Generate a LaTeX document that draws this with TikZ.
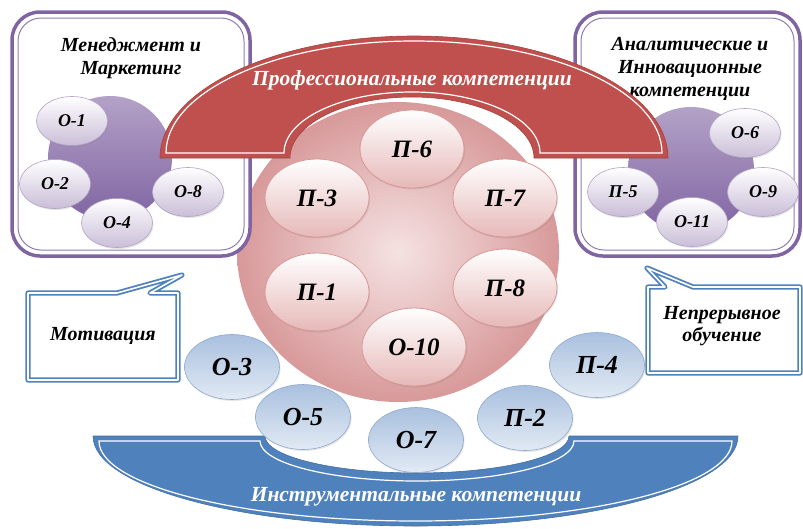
\documentclass[tikz,border=0pt]{standalone}
\usepackage{fontspec}
\setmainfont{Liberation Serif}
\usetikzlibrary{shapes.geometric,shadows}

\definecolor{zred}{HTML}{C0504D}
\definecolor{zblue}{HTML}{4F81BD}
\definecolor{zpurple}{HTML}{8064A2}
\definecolor{zlav}{HTML}{B3A2C7}
\definecolor{zpinkel}{HTML}{E6B9B8}
\definecolor{zpinkb}{HTML}{D99694}
\definecolor{zpinkin}{HTML}{F5E2E2}
\definecolor{zpinkout}{HTML}{D8999A}
\definecolor{zbluetop}{HTML}{A9C0DE}
\definecolor{zbluebot}{HTML}{E2EAF4}
\definecolor{zblueb}{HTML}{8EA9CF}

\begin{document}
\begin{tikzpicture}[x=1pt, y=-1pt, % 1单位 = 1像素, y轴向下
    every node/.style={font=\bfseries\itshape, inner sep=0pt}, % 统一字体
    purplebox/.style={draw=zpurple, line width=3.5pt, rounded corners=28pt, fill=white},
    purpleinner/.style={draw=zpurple!85, line width=1pt, rounded corners=23pt},
    boxtitle/.style={font=\fontsize{20}{23}\selectfont\bfseries\itshape, align=center},
    ovalshadow/.style={drop shadow={opacity=0.2, shadow xshift=1pt, shadow yshift=-1.5pt}},
    smalloval/.style={ellipse, minimum width=71pt, minimum height=49pt, draw=zlav, line width=0.6pt,
        top color=white, bottom color=zlav!70, ovalshadow, font=\fontsize{18}{18}\selectfont\bfseries\itshape},
    pinkoval/.style={ellipse, minimum width=104pt, minimum height=78pt, draw=zpinkb, line width=0.8pt,
        top color=white, bottom color=zpinkel, ovalshadow, font=\fontsize{25}{25}\selectfont\bfseries\itshape},
    blueoval/.style={ellipse, minimum width=95pt, minimum height=65pt, draw=zblueb, line width=0.6pt,
        top color=zbluetop, bottom color=zbluebot, ovalshadow, font=\fontsize{26}{26}\selectfont\bfseries\itshape},
    calloutbox/.style={draw=zblue, line width=1.8pt, double=white, double distance=1.6pt, fill=white, line join=round},
    calltext/.style={font=\fontsize{20}{22}\selectfont\bfseries\itshape, align=center},
    redarch/.style={fill=zred, draw=zred!85!black, line width=0.6pt},
    bluearch/.style={fill=zblue, draw=zblue!85!black, line width=0.6pt},
    whiteline/.style={draw=white, line width=1.2pt},
    archtext/.style={text=white, font=\fontsize{21.5}{21.5}\selectfont\bfseries\itshape}
  ]
  \useasboundingbox (0,0) rectangle (803,528);

  % 中间的粉色大圆
  \path[inner color=zpinkin, outer color=zpinkout] (398,252) ellipse[x radius=161, y radius=150];

  % 左框: 管理与营销
  \draw[purplebox] (12,12) rectangle (250,256);
  \draw[purpleinner] (18,18) rectangle (244,250);
  \node[boxtitle] (titleL) at (131,58) {Менеджмент и\\Маркетинг};
  \path[top color=zlav, bottom color=zpurple] (110,158) circle[radius=62];
  \node[smalloval] (o1) at (72,121) {О-1};
  \node[smalloval] (o2) at (55,184) {О-2};
  \node[smalloval] (o4) at (117,223) {О-4};
  \node[smalloval] (o8) at (188,192) {О-8};

  % 右框: 分析与创新
  \draw[purplebox] (575,12) rectangle (800,256);
  \draw[purpleinner] (581,18) rectangle (794,250);
  \node[boxtitle] (titleR) at (690,69) {Аналитические и\\Инновационные\\компетенции};
  \path[top color=zlav, bottom color=zpurple] (691,170) circle[radius=63];
  \node[smalloval] (o6) at (745,133) {О-6};
  \node[smalloval] (p5) at (623,192) {П-5};
  \node[smalloval] (o9) at (763,192) {О-9};
  \node[smalloval] (o11) at (692,222) {О-11};

  % 粉色圆内的六个椭圆
  \node[pinkoval] (p6) at (412,149) {П-6};
  \node[pinkoval] (p3) at (317,198) {П-3};
  \node[pinkoval] (p7) at (505,198) {П-7};
  \node[pinkoval] (p1) at (317,292) {П-1};
  \node[pinkoval] (p8) at (505,288) {П-8};
  \node[pinkoval] (o10) at (414,347) {О-10};

  % 上方红色拱形
  \path[redarch] (160,158) arc[start angle=180, end angle=360, x radius=254, y radius=122]
    -- (534,158) arc[start angle=360, end angle=180, x radius=122, y radius=61] -- cycle;
  \path[whiteline] (166,153) arc[start angle=180, end angle=360, x radius=248, y radius=112]
    -- (540,153) arc[start angle=360, end angle=180, x radius=128, y radius=61] -- cycle;
  \node[archtext] (prof) at (412,80) {Профессиональные компетенции};

  % 下方蓝色拱形
  \path[bluearch] (93,436) -- (265,436) arc[start angle=180, end angle=0, x radius=152, y radius=37]
    -- (738,436) arc[start angle=0, end angle=180, x radius=322.5, y radius=90] -- cycle;
  \path[whiteline] (99,441) -- (260,441) arc[start angle=180, end angle=0, x radius=157, y radius=40]
    -- (732,441) arc[start angle=0, end angle=180, x radius=316.5, y radius=80] -- cycle;
  \node[archtext] (instr) at (416,497) {Инструментальные компетенции};

  % 蓝色椭圆
  \node[blueoval] (o3) at (232,367) {О-3};
  \node[blueoval] (o5) at (303,417) {О-5};
  \node[blueoval] (o7) at (416,440) {О-7};
  \node[blueoval] (p2) at (525,418) {П-2};
  \node[blueoval] (p4) at (597,365) {П-4};

  % 两个标注框
  \draw[calloutbox] (28,293) -- (117,293) -- (182,275) -- (150,293) -- (178,293)
    -- (178,380) -- (28,380) -- cycle;
  \node[calltext] (motiv) at (103,336) {Мотивация};
  \draw[calloutbox] (648,287) -- (665,287) -- (647,268) -- (693,287) -- (800,287)
    -- (800,373) -- (648,373) -- cycle;
  \node[calltext] (nepr) at (722,326) {Непрерывное\\обучение};
\end{tikzpicture}
\end{document}
